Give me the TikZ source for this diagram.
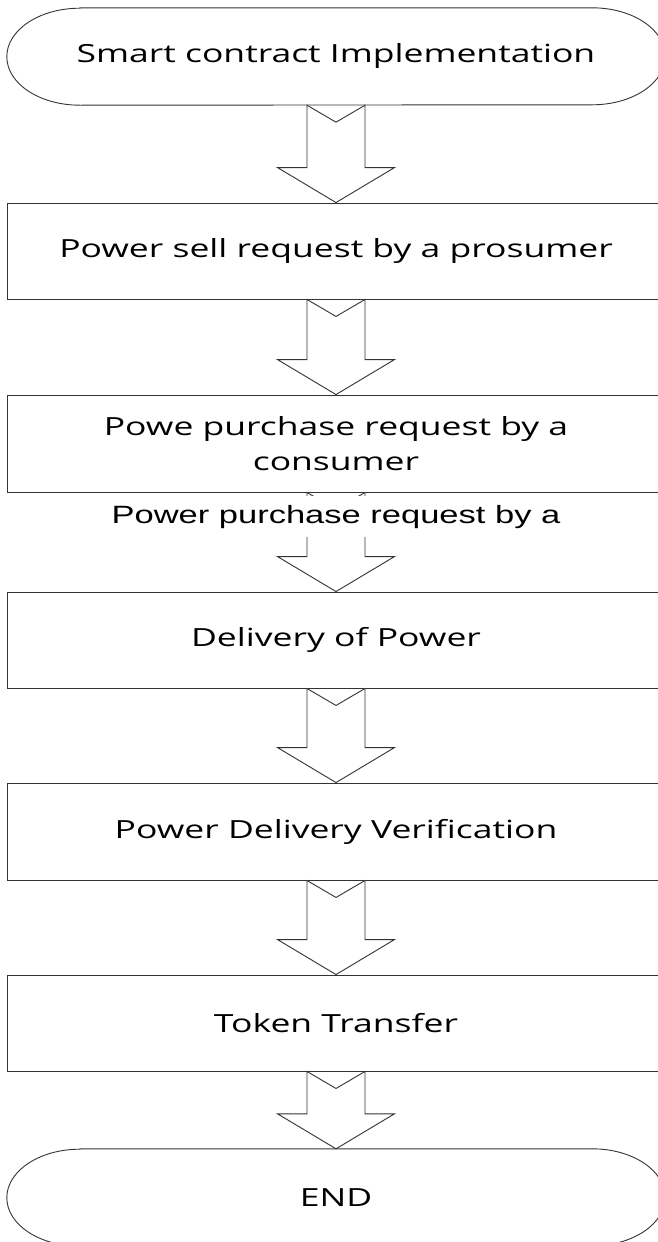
\documentclass[tikz,border=0pt]{standalone}
\usepackage{fontspec}
\setmainfont{Open Sans}[FakeStretch=1.42]
\newfontfamily\overlayfont{Liberation Sans}[FakeStretch=1.38]
\usetikzlibrary{calc}
\tikzset{
  outline/.style={draw=black!80, line width=0.9pt},
  procbox/.style={outline, rectangle, minimum width=658pt, minimum height=96pt,
    inner sep=0pt, align=center, font=\fontsize{25}{28}\selectfont},
  termbox/.style={rectangle, minimum width=658pt, minimum height=97pt,
    inner sep=0pt, font=\fontsize{25}{28}\selectfont},
  blockarr/.style={outline, fill=white, line join=miter},
  overlaylabel/.style={fill=white, inner xsep=4pt, inner ysep=9pt,
    font=\overlayfont\fontsize{25}{28}\selectfont},
}
\newcommand\blockarrow[2]{%
  \draw[blockarr] let \p1=(#1.south), \p2=(#2.north) in
    (\x1-29pt,\y1) -- (\x1,\y1-17pt) -- (\x1+29pt,\y1) -- (\x1+29pt,\y2+35pt)
    -- (\x1+58.5pt,\y2+35pt) -- (\x2,\y2) -- (\x1-58.5pt,\y2+35pt)
    -- (\x1-29pt,\y2+35pt) -- cycle;}
\newcommand\termoutline[1]{%
  \draw[outline] ([xshift=73pt]#1.north west) -- ([xshift=-73pt]#1.north east)
    arc[start angle=90, end angle=-90, x radius=73pt, y radius=48.5pt]
    -- ([xshift=73pt]#1.south west)
    arc[start angle=270, end angle=90, x radius=73pt, y radius=48.5pt] -- cycle;}
\begin{document}
\begin{tikzpicture}[x=1pt,y=-1pt]
\useasboundingbox (0,0) rectangle (658,1242);
\clip (0,0) rectangle (658,1242);
\fill[white] (0,0) rectangle (658,1242);
\node[termbox] (start) at (336,56.5) {Smart contract Implementation};
\termoutline{start}
\node[procbox] (sell) at (336,251) {Power sell request by a prosumer};
\node[procbox, minimum height=97pt, font=\fontsize{25}{35}\selectfont] (buy) at (336,443.5) {Powe purchase request by a\\consumer};
\node[procbox] (deliv) at (336,640) {Delivery of Power};
\node[procbox, minimum height=97pt] (verif) at (336,831.5) {Power Delivery Verification};
\node[procbox] (token) at (336,1023) {Token Transfer};
\node[termbox] (end) at (336,1197.5) {END};
\termoutline{end}
\blockarrow{start}{sell}
\blockarrow{sell}{buy}
\blockarrow{buy}{deliv}
\blockarrow{deliv}{verif}
\blockarrow{verif}{token}
\blockarrow{token}{end}
\node[overlaylabel, anchor=base] (lbl) at (336,523) {Power purchase request by a};
\end{tikzpicture}
\end{document}
